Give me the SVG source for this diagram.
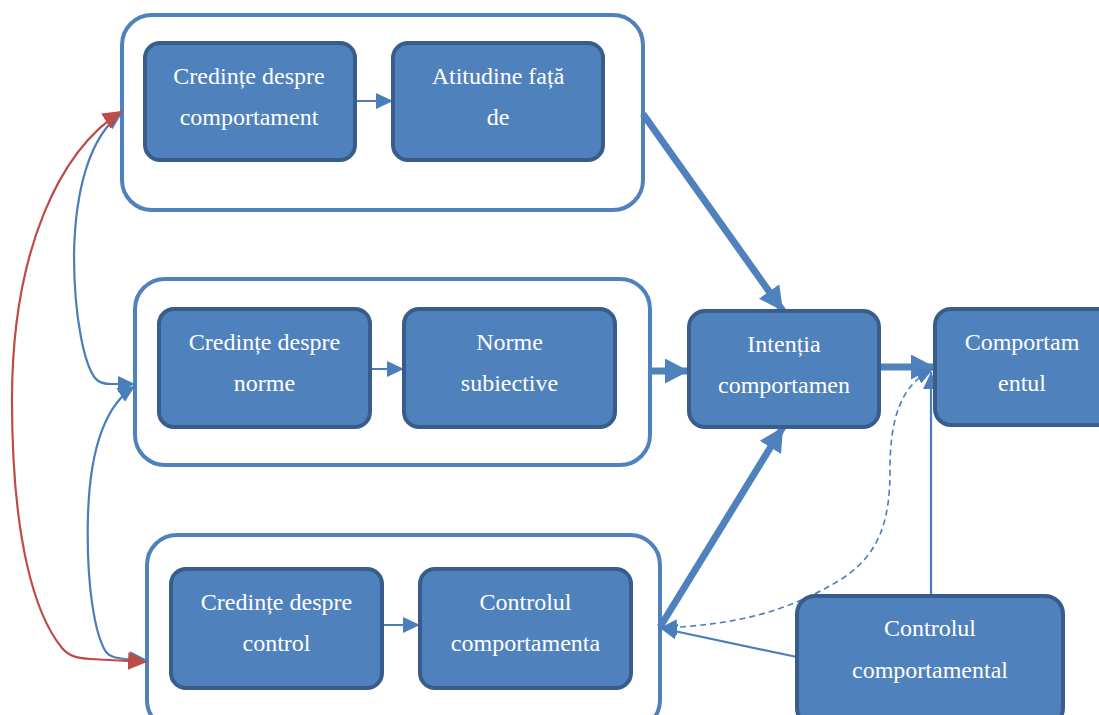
<svg xmlns="http://www.w3.org/2000/svg" width="1099" height="715" viewBox="0 0 1099 715">
  <style>
    .group { fill: #FFFFFF; stroke: #4F81BD; stroke-width: 4; }
    .box { fill: #4F81BD; stroke: #385D8A; stroke-width: 4; }
    .label { font-family: 'Liberation Serif', 'DejaVu Serif', serif; font-size: 24px; fill: #FFFFFF; text-anchor: middle; }
    .thick { fill: none; stroke: #4F81BD; stroke-width: 7; }
    .thin { fill: none; stroke: #4A7EBB; stroke-width: 2.2; }
    .dash { fill: none; stroke: #4A7EBB; stroke-width: 1.6; stroke-dasharray: 6 4; }
    .red { fill: none; stroke: #BE4B48; stroke-width: 2.2; }
  </style>
  <defs>
    <marker id="headBig" markerUnits="userSpaceOnUse" markerWidth="26" markerHeight="26" refX="24" refY="12.5" orient="auto-start-reverse">
      <path d="M0,0 L24,12.5 L0,25 Z" fill="#4F81BD"/>
    </marker>
    <marker id="headSmall" markerUnits="userSpaceOnUse" markerWidth="18" markerHeight="16" refX="17" refY="8" orient="auto-start-reverse">
      <path d="M0,0 L17,8 L0,16 Z" fill="#4A7EBB"/>
    </marker>
    <marker id="headRed" markerUnits="userSpaceOnUse" markerWidth="20" markerHeight="18" refX="19" refY="9" orient="auto-start-reverse">
      <path d="M0,0 L19,9 L0,18 Z" fill="#BE4B48"/>
    </marker>
  </defs>

  <rect width="1099" height="715" fill="#FFFFFF"/>

  <!-- grouping frames -->
  <g id="frame-attitude"><rect class="group" x="122" y="15" width="521" height="195" rx="30"/></g>
  <g id="frame-norms"><rect class="group" x="135" y="279" width="515" height="186" rx="30"/></g>
  <g id="frame-control"><rect class="group" x="147" y="535" width="513" height="195" rx="30"/></g>

  <!-- connectors -->
  <g id="connectors">
    <!-- inside frames -->
    <path class="thin" d="M355,101 L393,101" marker-end="url(#headSmall)"/>
    <path class="thin" d="M370,369 L404,369" marker-end="url(#headSmall)"/>
    <path class="thin" d="M382,625 L420,625" marker-end="url(#headSmall)"/>
    <!-- into intention -->
    <path class="thick" d="M643,114 L783,311" marker-end="url(#headBig)"/>
    <path class="thick" d="M650,371 L689,371" marker-end="url(#headBig)"/>
    <path class="thick" d="M660,627 L783,427" marker-end="url(#headBig)"/>
    <!-- intention to behaviour -->
    <path class="thick" d="M879,367 L935,367" marker-end="url(#headBig)"/>
    <!-- perceived control -->
    <path class="thin" d="M931,596 L931,372" marker-end="url(#headSmall)"/>
    <path class="thin" d="M797,657 L660,628" marker-end="url(#headSmall)"/>
    <path class="dash" d="M660,628 C740,625 790,610 840,580 C880,555 890,520 890,470 C890,420 900,385 933,369" marker-start="url(#headSmall)" marker-end="url(#headSmall)"/>
    <!-- correlations between belief groups -->
    <path class="thin" d="M122,113 C90,135 75,190 74,255 C74,320 85,365 95,378 C99,383 104,384 112,384 L135,384" marker-start="url(#headSmall)" marker-end="url(#headSmall)"/>
    <path class="thin" d="M135,386 C105,405 90,450 88,515 C86,585 95,635 106,652 C110,657 116,658 125,659 L147,660" marker-start="url(#headSmall)" marker-end="url(#headSmall)"/>
    <path class="red" d="M122,111 C60,150 12,250 12,400 C12,540 35,615 62,648 C69,656 76,658 90,659 L147,662" marker-start="url(#headRed)" marker-end="url(#headRed)"/>
  </g>

  <!-- nodes -->
  <g id="node-beliefs-behaviour">
    <rect class="box" x="145" y="43" width="210" height="117" rx="15"/>
    <text class="label" x="249" y="84">Credințe despre</text>
    <text class="label" x="249" y="125">comportament</text>
  </g>
  <g id="node-attitude">
    <rect class="box" x="393" y="43" width="210" height="117" rx="15"/>
    <text class="label" x="498" y="84">Atitudine față</text>
    <text class="label" x="498" y="125">de</text>
  </g>
  <g id="node-beliefs-norms">
    <rect class="box" x="159" y="309" width="211" height="118" rx="15"/>
    <text class="label" x="264.5" y="350">Credințe despre</text>
    <text class="label" x="264.5" y="391">norme</text>
  </g>
  <g id="node-subjective-norms">
    <rect class="box" x="404" y="309" width="211" height="118" rx="15"/>
    <text class="label" x="509.5" y="350">Norme</text>
    <text class="label" x="509.5" y="391">subiective</text>
  </g>
  <g id="node-beliefs-control">
    <rect class="box" x="171" y="569" width="211" height="119" rx="15"/>
    <text class="label" x="276.5" y="610">Credințe despre</text>
    <text class="label" x="276.5" y="651">control</text>
  </g>
  <g id="node-control-inner">
    <rect class="box" x="420" y="569" width="211" height="119" rx="15"/>
    <text class="label" x="525.5" y="610">Controlul</text>
    <text class="label" x="525.5" y="651">comportamenta</text>
  </g>
  <g id="node-intention">
    <rect class="box" x="689" y="311" width="190" height="116" rx="16"/>
    <text class="label" x="784" y="352">Intenția</text>
    <text class="label" x="784" y="393">comportamen</text>
  </g>
  <g id="node-behaviour">
    <rect class="box" x="935" y="309" width="180" height="116" rx="16"/>
    <text class="label" x="1022" y="350">Comportam</text>
    <text class="label" x="1022" y="391">entul</text>
  </g>
  <g id="node-perceived-control">
    <rect class="box" x="797" y="596" width="266" height="130" rx="18"/>
    <text class="label" x="930" y="636">Controlul</text>
    <text class="label" x="930" y="678">comportamental</text>
  </g>
</svg>
